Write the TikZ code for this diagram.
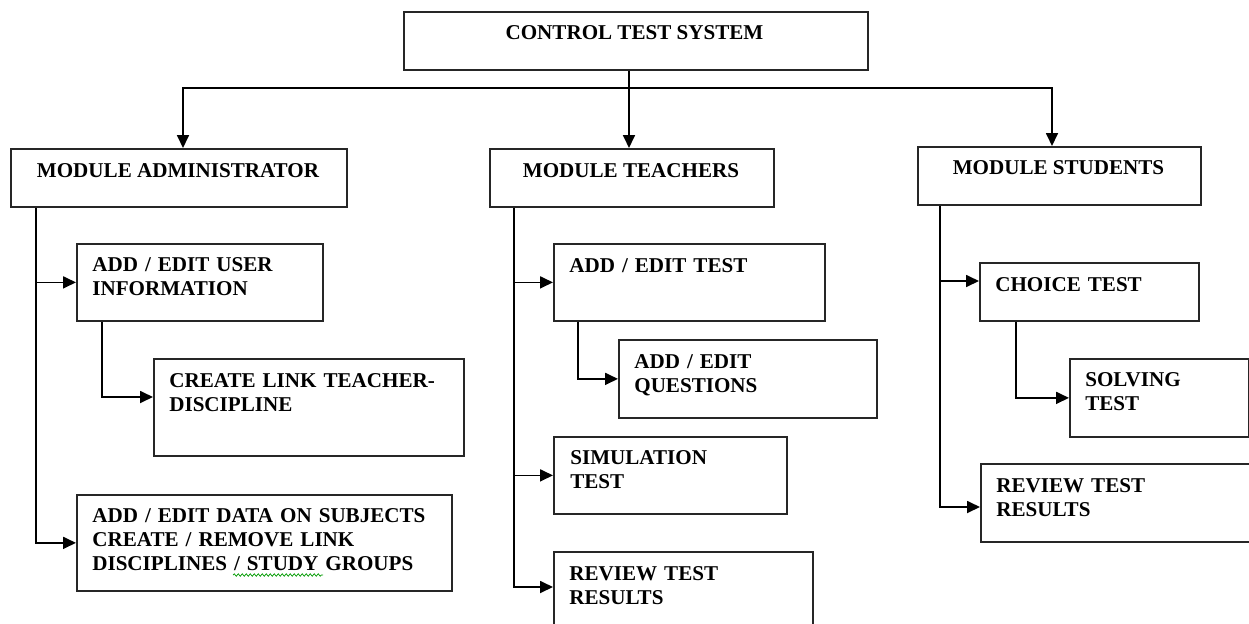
\documentclass[tikz,border=0pt]{standalone}
\usepackage{fontspec}
\setmainfont{Liberation Serif}
\usetikzlibrary{arrows.meta,decorations.pathmorphing,calc}
\newcommand\bx[5]{\node[box, minimum width=#4*0.02cm, minimum height=#5*0.02cm] (#1) at (#2,#3) {};}
\begin{document}
\begin{tikzpicture}[x=0.02cm,y=-0.02cm,
  box/.style={draw=black!85, line width=1pt, anchor=north west, inner sep=0pt},
  txt/.style={font=\fontsize{12}{13.9}\selectfont\bfseries, inner sep=0pt},
  mtxt/.style={txt, anchor=base west, text width=9cm, align=left},
  ctxt/.style={txt, anchor=base},
  conn/.style={line width=1pt, draw=black},
  arr/.style={conn, -{Triangle[length=0.26cm,width=0.24cm]}}
]
\path[use as bounding box] (0,0) rectangle (1249,623);
\clip (0,0) rectangle (1249,623);

% boxes
\bx{ctrl}{403}{11}{464}{58}
\bx{adm}{10}{148}{336}{58}
\bx{tea}{489}{148}{284}{58}
\bx{stu}{917}{146}{283}{58}
\bx{user}{76}{243}{246}{77}
\bx{lnk}{153}{358}{310}{97}
\bx{data}{76}{494}{375}{96}
\bx{test}{553}{243}{271}{77}
\bx{ques}{618}{339}{258}{78}
\bx{sim}{553}{436}{233}{77}
\bx{revt}{553}{551}{259}{100}
\bx{choice}{979}{262}{219}{58}
\bx{solve}{1069}{358}{179}{78}
\bx{revs}{980}{463}{320}{78}

% texts
\node[ctxt] (ctrl-t) at (634.5,39) {CONTROL TEST SYSTEM};
\node[ctxt] (adm-t) at (178,177) {MODULE ADMINISTRATOR};
\node[ctxt] (tea-t) at (631,177) {MODULE TEACHERS};
\node[ctxt] (stu-t) at (1058.5,174) {MODULE STUDENTS};
\node[mtxt] (user-t) at (92,271) {ADD / EDIT USER\\INFORMATION};
\node[mtxt] (lnk-t) at (169,387) {CREATE LINK TEACHER-\\DISCIPLINE};
\node[mtxt] (data-t) at (92,522) {ADD / EDIT DATA ON SUBJECTS\\CREATE / REMOVE LINK\\DISCIPLINES / STUDY GROUPS};
\node[mtxt] (test-t) at (569,272) {ADD / EDIT TEST};
\node[mtxt] (ques-t) at (634,368) {ADD / EDIT\\QUESTIONS};
\node[mtxt] (sim-t) at (570,464) {SIMULATION\\TEST};
\node[mtxt] (revt-t) at (569,580) {REVIEW TEST\\RESULTS};
\node[mtxt] (choice-t) at (995,291) {CHOICE TEST};
\node[mtxt] (solve-t) at (1085,386) {SOLVING\\TEST};
\node[mtxt] (revs-t) at (996,492) {REVIEW TEST\\RESULTS};

% spell-check squiggle
\draw[green!60!black, line width=0.4pt, decorate, decoration={snake, amplitude=0.025cm, segment length=0.08cm}] (233,575) -- (323,575);

% top level connectors
\coordinate (hub) at (629,88);
\coordinate (admx) at (183,0);
\coordinate (stux) at (1052,0);
\draw[conn] (ctrl.south -| hub) -- (hub);
\draw[arr] (hub) -- (tea.north -| hub);
\draw[arr] (hub) -| (adm.north -| admx);
\draw[arr] (hub) -| (stu.north -| stux);

% administrator
\coordinate (admtr) at (36,0);
\coordinate (usx) at (102,0);
\coordinate (lnkin) at ($(lnk.north west)+(0,39)$);
\draw[arr] (adm.south -| admtr) |- (data.west);
\draw[arr] (admtr |- user.west) -- (user.west);
\draw[arr] (user.south -| usx) |- (lnkin);

% teachers
\coordinate (teatr) at (514,0);
\coordinate (tsx) at (578,0);
\coordinate (revtin) at ($(revt.north west)+(0,36)$);
\draw[arr] (tea.south -| teatr) |- (revtin);
\draw[arr] (teatr |- test.west) -- (test.west);
\draw[arr] (teatr |- sim.west) -- (sim.west);
\draw[arr] (test.south -| tsx) |- (ques.west);

% students
\coordinate (stutr) at (940,0);
\coordinate (csx) at (1016,0);
\coordinate (choicein) at ($(choice.north west)+(0,19)$);
\coordinate (revsin) at ($(revs.north west)+(0,44)$);
\draw[arr] (stu.south -| stutr) |- (revsin);
\draw[arr] (stutr |- choicein) -- (choicein);
\draw[arr] (choice.south -| csx) |- (solve.west);
\end{tikzpicture}
\end{document}
